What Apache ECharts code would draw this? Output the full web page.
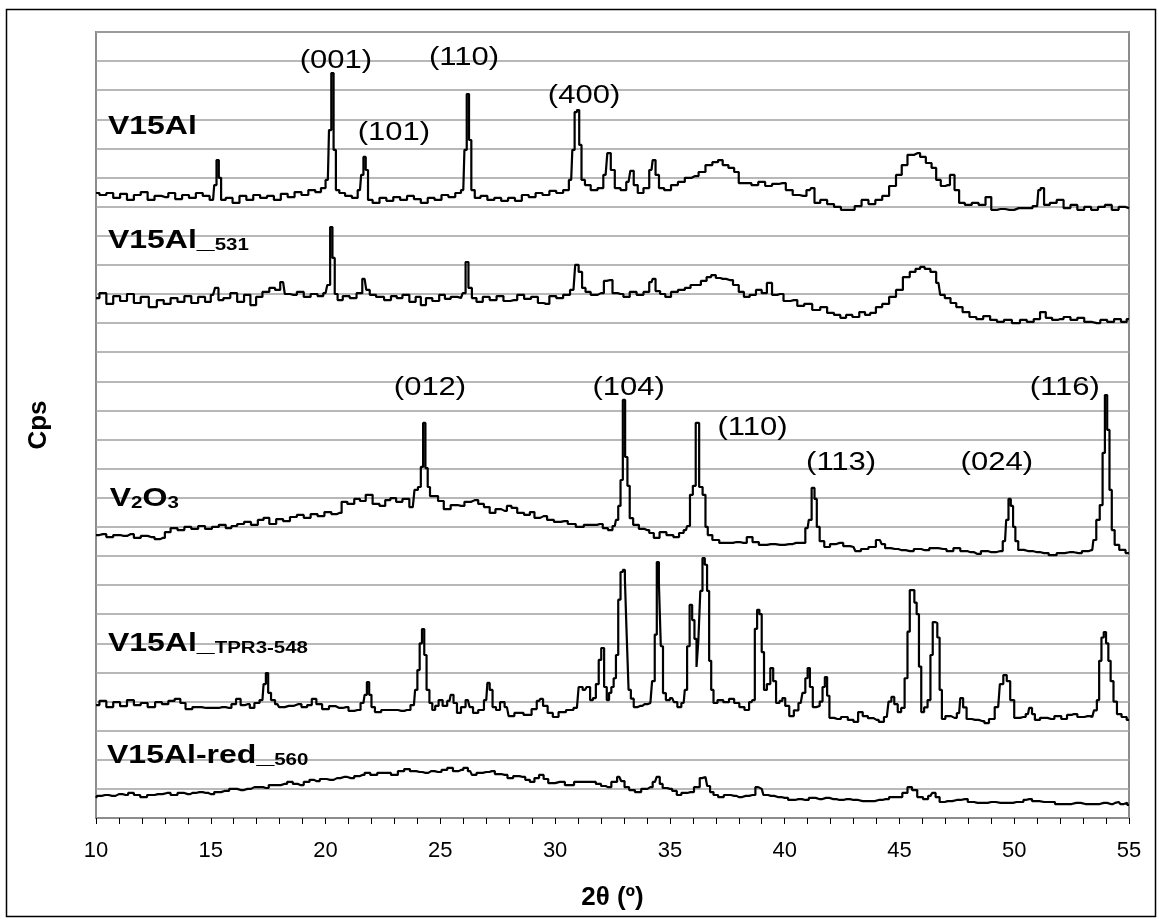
<!DOCTYPE html>
<html><head><meta charset="utf-8">
<script src="https://cdn.jsdelivr.net/npm/echarts@6/dist/echarts.min.js"></script>
<style>html,body{margin:0;padding:0;background:#fff}#c{width:1159px;height:920px}</style>
</head><body><div id="c"></div>
<script>
// 2θ (degrees), intensity (cps, offset stacked; 1 gridline = 100)
const V15Al = [[10.0,2147],[10.3,2140],[10.6,2147],[10.9,2130],[11.2,2144],[11.5,2123],[11.8,2140],[12.1,2150],[12.4,2123],[12.7,2137],[13.0,2133],[13.3,2147],[13.6,2126],[13.9,2140],[14.2,2130],[14.5,2147],[14.8,2137],[15.1,2123],[15.2,2174],[15.3,2260],[15.4,2199],[15.5,2123],[15.8,2130],[16.1,2113],[16.4,2137],[16.7,2123],[17.0,2140],[17.3,2130],[17.6,2137],[17.9,2123],[18.2,2144],[18.5,2133],[18.8,2150],[19.1,2140],[19.4,2157],[19.7,2150],[19.9,2164],[20.1,2192],[20.2,2363],[20.3,2559],[20.4,2295],[20.5,2157],[20.7,2147],[21.0,2137],[21.3,2130],[21.5,2157],[21.6,2209],[21.7,2271],[21.8,2226],[21.9,2123],[22.2,2113],[22.5,2130],[22.8,2120],[23.1,2133],[23.4,2123],[23.7,2137],[24.0,2126],[24.3,2113],[24.6,2130],[24.9,2123],[25.2,2140],[25.5,2133],[25.8,2147],[26.0,2157],[26.1,2295],[26.2,2487],[26.3,2329],[26.4,2157],[26.6,2130],[26.9,2137],[27.2,2123],[27.5,2130],[27.8,2120],[28.1,2130],[28.4,2120],[28.7,2140],[29.0,2133],[29.3,2147],[29.6,2140],[29.9,2154],[30.2,2147],[30.5,2157],[30.7,2192],[30.8,2295],[30.9,2425],[31.0,2432],[31.1,2312],[31.2,2192],[31.4,2174],[31.7,2157],[32.0,2164],[32.2,2209],[32.35,2284],[32.5,2226],[32.7,2164],[33.0,2157],[33.2,2185],[33.35,2223],[33.5,2174],[33.7,2147],[34.0,2164],[34.2,2226],[34.3,2260],[34.45,2209],[34.6,2164],[34.9,2157],[35.2,2174],[35.5,2185],[35.8,2199],[36.1,2205],[36.4,2219],[36.7,2243],[37.0,2253],[37.2,2260],[37.4,2243],[37.7,2233],[37.9,2219],[38.1,2181],[38.4,2181],[38.7,2174],[39.0,2185],[39.3,2171],[39.6,2178],[39.9,2181],[40.2,2157],[40.5,2140],[40.8,2137],[41.1,2157],[41.2,2164],[41.4,2113],[41.7,2123],[42.0,2109],[42.3,2099],[42.6,2089],[42.9,2089],[43.2,2102],[43.5,2123],[43.8,2109],[44.1,2123],[44.4,2137],[44.7,2171],[45.0,2209],[45.2,2243],[45.5,2278],[45.8,2284],[46.0,2271],[46.3,2250],[46.5,2233],[46.7,2192],[46.9,2171],[47.1,2174],[47.3,2209],[47.5,2157],[47.7,2113],[48.0,2106],[48.3,2113],[48.6,2106],[48.9,2133],[49.1,2089],[49.4,2092],[49.8,2089],[50.2,2095],[50.6,2095],[51.0,2102],[51.1,2157],[51.2,2164],[51.4,2106],[51.7,2113],[52.0,2123],[52.3,2095],[52.6,2106],[52.9,2089],[53.2,2099],[53.5,2089],[53.8,2099],[54.1,2106],[54.4,2089],[54.7,2099],[55.0,2095]];

const V15Al_531 = [[10.0,1786],[10.3,1803],[10.6,1766],[10.9,1793],[11.2,1776],[11.5,1800],[11.8,1769],[12.1,1790],[12.5,1755],[12.8,1779],[13.1,1766],[13.4,1786],[13.7,1773],[14.0,1793],[14.3,1769],[14.6,1790],[14.9,1773],[15.1,1797],[15.27,1821],[15.4,1779],[15.7,1786],[16.0,1803],[16.3,1773],[16.6,1797],[16.85,1762],[17.1,1790],[17.4,1807],[17.7,1821],[17.9,1814],[18.15,1841],[18.3,1800],[18.6,1797],[18.9,1807],[19.2,1790],[19.5,1800],[19.8,1793],[20.0,1803],[20.15,1831],[20.25,2030],[20.35,1924],[20.45,1800],[20.6,1779],[20.9,1793],[21.2,1786],[21.5,1803],[21.7,1852],[21.85,1814],[22.0,1797],[22.4,1790],[22.7,1779],[23.0,1793],[23.2,1786],[23.5,1797],[23.8,1773],[24.05,1790],[24.25,1762],[24.5,1786],[24.8,1776],[25.1,1797],[25.3,1783],[25.6,1790],[25.9,1786],[26.05,1803],[26.15,1910],[26.3,1821],[26.45,1786],[26.7,1773],[27.0,1790],[27.3,1779],[27.6,1793],[27.9,1776],[28.2,1779],[28.5,1797],[28.8,1783],[29.1,1790],[29.4,1769],[29.6,1766],[29.9,1793],[30.2,1786],[30.5,1797],[30.8,1814],[30.95,1900],[31.1,1876],[31.25,1821],[31.4,1807],[31.7,1797],[32.0,1803],[32.25,1845],[32.4,1848],[32.6,1803],[32.85,1800],[33.1,1790],[33.4,1807],[33.7,1797],[34.0,1807],[34.2,1841],[34.3,1852],[34.45,1810],[34.7,1800],[34.9,1790],[35.2,1807],[35.5,1814],[35.8,1821],[36.0,1831],[36.2,1831],[36.5,1845],[36.7,1858],[36.9,1865],[37.1,1855],[37.3,1852],[37.6,1848],[37.9,1831],[38.1,1807],[38.35,1790],[38.6,1797],[38.9,1814],[39.1,1803],[39.35,1838],[39.55,1797],[39.8,1800],[40.1,1776],[40.4,1779],[40.7,1759],[41.0,1766],[41.4,1745],[41.7,1755],[42.0,1735],[42.3,1728],[42.55,1718],[42.8,1728],[43.1,1721],[43.4,1738],[43.6,1728],[43.85,1735],[44.1,1755],[44.4,1766],[44.7,1790],[45.0,1814],[45.3,1858],[45.6,1876],[45.8,1886],[46.0,1893],[46.2,1886],[46.5,1876],[46.7,1838],[46.85,1797],[47.1,1786],[47.35,1769],[47.6,1755],[47.9,1738],[48.2,1721],[48.5,1714],[48.8,1724],[49.1,1711],[49.4,1704],[49.7,1711],[50.1,1700],[50.4,1711],[50.7,1704],[51.0,1714],[51.25,1738],[51.5,1718],[51.8,1711],[52.0,1714],[52.3,1721],[52.6,1711],[52.9,1718],[53.2,1704],[53.6,1700],[53.9,1711],[54.2,1704],[54.5,1714],[54.8,1704],[55.0,1714]];

const V2O3 = [[10.0,972],[10.3,975],[10.6,965],[10.9,972],[11.2,969],[11.5,975],[11.8,962],[12.1,969],[12.4,965],[12.7,958],[12.9,962],[13.1,982],[13.4,996],[13.7,989],[14.0,1000],[14.3,993],[14.6,1003],[14.9,993],[15.2,1000],[15.5,1007],[15.8,996],[16.0,1003],[16.3,1010],[16.6,1017],[16.9,1007],[17.2,1024],[17.4,1031],[17.7,1010],[18.0,1027],[18.3,1020],[18.6,1034],[18.9,1041],[19.2,1031],[19.5,1044],[19.8,1037],[20.1,1051],[20.4,1044],[20.6,1048],[20.8,1086],[21.1,1079],[21.4,1096],[21.6,1089],[21.9,1110],[22.2,1079],[22.5,1072],[22.7,1092],[22.95,1099],[23.2,1086],[23.5,1096],[23.8,1068],[23.95,1127],[24.1,1137],[24.2,1206],[24.3,1357],[24.4,1202],[24.5,1137],[24.6,1106],[24.8,1106],[25.0,1089],[25.3,1061],[25.6,1075],[25.9,1072],[26.2,1086],[26.5,1092],[26.8,1079],[27.0,1068],[27.3,1048],[27.5,1061],[27.8,1055],[28.0,1072],[28.2,1065],[28.5,1048],[28.8,1041],[29.0,1051],[29.2,1031],[29.5,1037],[29.8,1024],[30.1,1017],[30.4,1020],[30.7,1010],[31.1,1000],[31.4,1007],[31.7,1007],[31.95,1010],[32.2,996],[32.4,989],[32.6,1003],[32.7,1024],[32.8,1072],[32.9,1161],[33.0,1436],[33.1,1240],[33.2,1141],[33.3,1030],[33.5,1007],[33.8,993],[34.0,989],[34.2,979],[34.4,962],[34.7,982],[35.0,972],[35.3,965],[35.5,979],[35.7,989],[35.8,1003],[35.95,1110],[36.05,1141],[36.2,1357],[36.35,1137],[36.5,1110],[36.6,1000],[36.7,972],[37.0,955],[37.3,945],[37.6,945],[37.9,948],[38.2,945],[38.5,965],[38.7,948],[39.05,938],[39.4,941],[39.8,938],[40.2,941],[40.5,945],[40.8,945],[41.0,996],[41.1,1024],[41.25,1134],[41.35,1096],[41.45,1000],[41.6,951],[41.85,931],[42.1,941],[42.4,945],[42.7,934],[43.0,931],[43.15,917],[43.5,924],[43.8,931],[44.15,955],[44.3,941],[44.45,927],[44.8,924],[45.1,920],[45.45,917],[45.8,924],[46.1,920],[46.5,927],[46.9,924],[47.2,917],[47.5,927],[47.8,917],[48.1,913],[48.4,907],[48.7,917],[49.0,913],[49.4,917],[49.6,951],[49.7,1024],[49.8,1096],[49.9,1072],[50.0,1000],[50.1,951],[50.25,921],[50.6,917],[51.0,913],[51.3,910],[51.7,903],[52.0,910],[52.4,913],[52.8,910],[53.1,917],[53.4,921],[53.5,955],[53.65,1024],[53.8,1075],[53.9,1254],[54.0,1453],[54.1,1333],[54.2,1127],[54.3,989],[54.45,938],[54.7,921],[55.0,910]];

const V15Al_TPR3_548 = [[10.0,388],[10.3,402],[10.6,381],[10.9,398],[11.2,384],[11.5,405],[11.8,388],[12.1,395],[12.4,381],[12.75,398],[13.0,391],[13.3,402],[13.55,409],[13.8,395],[14.0,374],[14.4,381],[14.8,378],[15.2,378],[15.5,381],[15.8,378],[16.0,391],[16.2,409],[16.4,388],[16.6,391],[16.8,378],[17.0,395],[17.25,405],[17.35,460],[17.45,498],[17.55,430],[17.7,405],[17.9,391],[18.05,381],[18.4,385],[18.8,391],[19.1,381],[19.3,388],[19.5,409],[19.7,391],[20.0,374],[20.3,384],[20.6,378],[20.9,381],[21.1,368],[21.4,371],[21.65,395],[21.75,423],[21.85,467],[21.95,423],[22.05,381],[22.25,364],[22.6,371],[23.0,371],[23.3,368],[23.55,371],[23.85,388],[23.95,440],[24.05,508],[24.15,600],[24.25,649],[24.35,560],[24.45,440],[24.6,395],[24.7,371],[24.85,385],[25.0,405],[25.2,385],[25.4,402],[25.5,423],[25.65,395],[25.8,361],[26.0,381],[26.2,405],[26.35,381],[26.5,361],[26.8,371],[27.0,405],[27.1,464],[27.2,440],[27.35,381],[27.5,371],[27.7,398],[27.9,381],[28.05,350],[28.4,361],[28.85,354],[29.1,374],[29.3,402],[29.4,409],[29.55,385],[29.8,361],[30.0,347],[30.3,364],[30.65,371],[30.95,378],[31.1,450],[31.3,440],[31.45,450],[31.6,405],[31.7,412],[31.85,460],[31.95,543],[32.07,584],[32.2,450],[32.3,405],[32.4,430],[32.5,450],[32.6,480],[32.7,560],[32.8,750],[32.9,845],[33.0,852],[33.08,820],[33.15,635],[33.25,440],[33.35,410],[33.5,381],[33.7,385],[33.9,391],[34.15,395],[34.3,470],[34.38,630],[34.48,879],[34.56,810],[34.65,590],[34.75,429],[34.9,405],[35.1,412],[35.25,398],[35.4,381],[35.6,395],[35.7,440],[35.8,590],[35.92,732],[36.02,680],[36.12,615],[36.2,519],[36.28,610],[36.37,780],[36.47,893],[36.57,870],[36.67,780],[36.75,540],[36.85,440],[36.95,395],[37.2,405],[37.45,398],[37.7,409],[37.9,395],[38.15,381],[38.35,371],[38.55,398],[38.65,405],[38.75,650],[38.85,715],[38.95,700],[39.05,570],[39.15,440],[39.3,460],[39.45,515],[39.55,470],[39.7,395],[39.85,402],[39.95,412],[40.1,385],[40.3,350],[40.5,370],[40.7,395],[40.85,430],[40.95,480],[41.05,515],[41.15,450],[41.3,381],[41.45,385],[41.6,400],[41.7,450],[41.8,484],[41.9,420],[42.0,344],[42.3,340],[42.6,347],[42.9,337],[43.1,330],[43.3,364],[43.5,350],[43.75,343],[44.0,337],[44.2,330],[44.45,347],[44.6,400],[44.7,416],[44.85,391],[45.0,364],[45.15,378],[45.3,480],[45.4,640],[45.5,783],[45.6,783],[45.7,740],[45.8,700],[45.9,520],[46.0,364],[46.15,380],[46.3,405],[46.4,560],[46.5,673],[46.6,670],[46.7,620],[46.8,440],[46.9,340],[47.1,350],[47.4,344],[47.6,360],[47.7,412],[47.85,380],[48.0,340],[48.3,337],[48.6,333],[48.8,326],[49.0,340],[49.3,381],[49.45,460],[49.6,491],[49.75,470],[49.9,405],[50.1,344],[50.4,347],[50.6,357],[50.7,378],[50.85,357],[50.95,337],[51.3,344],[51.6,340],[51.9,350],[52.2,340],[52.4,354],[52.6,357],[52.9,347],[53.2,350],[53.4,347],[53.55,370],[53.65,405],[53.75,540],[53.85,620],[53.95,639],[54.05,600],[54.15,540],[54.25,470],[54.4,400],[54.55,357],[54.8,347],[55.0,337]];

const V15Al_red_560 = [[10.0,69],[10.1,76],[10.4,79],[10.7,76],[11.0,82],[11.3,79],[11.5,86],[11.8,79],[12.05,72],[12.4,79],[12.7,82],[13.1,86],[13.4,79],[13.7,86],[14.0,82],[14.2,86],[14.5,89],[14.8,86],[15.0,82],[15.3,89],[15.6,93],[16.0,100],[16.3,96],[16.6,100],[16.9,106],[17.15,106],[17.4,103],[17.65,113],[17.9,113],[18.2,117],[18.45,124],[18.7,117],[18.9,113],[19.2,124],[19.4,131],[19.6,127],[19.9,134],[20.2,131],[20.5,137],[20.8,141],[21.1,137],[21.4,144],[21.6,148],[21.8,155],[22.1,148],[22.4,155],[22.7,155],[23.0,148],[23.3,161],[23.55,168],[23.8,161],[24.1,158],[24.35,155],[24.6,161],[24.9,158],[25.2,165],[25.4,172],[25.7,161],[25.9,165],[26.1,172],[26.3,161],[26.45,148],[26.7,155],[27.0,158],[27.25,161],[27.5,151],[27.8,148],[28.05,137],[28.3,144],[28.6,141],[28.8,131],[29.0,124],[29.2,137],[29.4,148],[29.6,134],[29.8,120],[30.2,124],[30.65,113],[31.0,124],[31.3,124],[31.65,124],[31.9,117],[32.1,110],[32.3,106],[32.6,124],[32.8,141],[32.95,127],[33.1,106],[33.35,96],[33.6,89],[33.9,100],[34.15,106],[34.35,124],[34.5,141],[34.62,117],[34.75,103],[35.0,100],[35.2,93],[35.4,79],[35.6,86],[35.9,89],[36.2,106],[36.4,137],[36.55,141],[36.7,110],[36.8,89],[37.0,79],[37.2,72],[37.5,79],[37.8,76],[38.0,72],[38.3,76],[38.6,79],[38.85,106],[39.0,100],[39.15,79],[39.4,76],[39.7,72],[40.0,69],[40.3,62],[40.6,65],[40.9,62],[41.2,69],[41.5,65],[41.8,69],[42.1,65],[42.4,62],[42.7,65],[43.0,62],[43.4,58],[43.75,58],[44.1,62],[44.4,65],[44.7,72],[45.0,72],[45.25,86],[45.45,106],[45.65,96],[45.9,72],[46.15,65],[46.35,76],[46.5,86],[46.65,72],[46.85,55],[47.1,58],[47.5,62],[47.85,65],[48.1,55],[48.4,52],[48.7,52],[49.0,55],[49.4,52],[49.8,52],[50.1,55],[50.3,55],[50.5,62],[50.65,65],[50.9,58],[51.3,55],[51.6,55],[51.95,48],[52.3,48],[52.7,52],[53.1,48],[53.55,48],[53.9,52],[54.2,48],[54.4,52],[54.55,55],[54.7,48],[54.85,52],[55.0,45]];

// [2θ, cps, text] — Miller index annotations (text centre)
const peakLabels = [[20.45,2600,'(001)'],[22.98,2353,'(101)'],[26.03,2610,'(110)'],[31.26,2480,'(400)'],[24.55,1477,'(012)'],[33.2,1477,'(104)'],[38.6,1340,'(110)'],[42.46,1219,'(113)'],[49.24,1219,'(024)'],[52.2,1477,'(116)']];
// [2θ, cps, rich text] — sample names (left edge, vertical centre)
const sampleLabels = [[10.52,2374,'{m|V15Al}'],[10.52,1985,'{m|V15Al_}{s|531}'],[10.6,1096,'{m|V}{s|2}{m|O}{s|3}'],[10.52,598,'{m|V15Al_}{s|TPR3-548}'],[10.48,216,'{m|V15Al-red_}{s|560}']];

const FONT = '"Liberation Sans", Arial, Helvetica, sans-serif';
const chart = echarts.init(document.getElementById('c'), null, {renderer:'canvas'});
const traceSeries = (name, data) => ({type:'line', name, data, step:'middle', symbol:'none', showSymbol:false, lineStyle:{color:'#000', width:2.2}, silent:true, animation:false, z:3});
const frame = {type:'rect', shape:{x:6.5, y:9.5, width:1149, height:907}, style:{fill:null, stroke:'#000', lineWidth:1.5}, silent:true, z:-10};

chart.setOption({
  backgroundColor:'#fff',
  animation:false,
  graphic:[frame],
  grid:{left:96, right:30, top:32, bottom:102, show:true, borderColor:'#8c8c8c', borderWidth:2, backgroundColor:'#fff'},
  xAxis:{type:'value', min:10, max:55, interval:5,
    axisLine:{show:true, onZero:false, lineStyle:{color:'#8c8c8c', width:2}},
    axisTick:{show:true, inside:false, length:6, lineStyle:{color:'#000', width:1}},
    minorTick:{show:true, splitNumber:5, length:6, lineStyle:{color:'#000', width:1}},
    axisLabel:{fontSize:22, color:'#000', fontFamily:FONT, margin:22},
    splitLine:{show:false},
    name:'2θ (º)', nameLocation:'middle', nameGap:67,
    nameTextStyle:{fontSize:26, fontWeight:'bold', color:'#000', fontFamily:FONT}},
  yAxis:{type:'value', min:0, max:2700, interval:100,
    axisLine:{show:false}, axisTick:{show:false}, axisLabel:{show:false},
    splitLine:{show:true, lineStyle:{color:'#a0a0a0', width:1.5}},
    name:'Cps', nameLocation:'middle', nameGap:44,
    nameTextStyle:{fontSize:26, fontWeight:'bold', color:'#000', fontFamily:FONT}},
  series:[
    traceSeries('V15Al', V15Al),
    traceSeries('V15Al_531', V15Al_531),
    traceSeries('V2O3', V2O3),
    traceSeries('V15Al_TPR3-548', V15Al_TPR3_548),
    traceSeries('V15Al-red_560', V15Al_red_560)
  ]
});

// text annotations anchored to data coordinates through the chart's own scales
const texts = [];
peakLabels.forEach(p => {
  const pt = chart.convertToPixel({gridIndex:0}, [p[0], p[1]]);
  texts.push({type:'text', x:pt[0], y:pt[1], scaleX:1.24, silent:true, z:10,
    style:{text:p[2], font:'25px ' + FONT, fill:'#000', align:'center', verticalAlign:'middle', textAlign:'center', textVerticalAlign:'middle'}});
});
sampleLabels.forEach(p => {
  const pt = chart.convertToPixel({gridIndex:0}, [p[0], p[1]]);
  texts.push({type:'text', x:pt[0], y:pt[1], scaleX:1.28, silent:true, z:10,
    style:{text:p[2], fill:'#000', align:'left', verticalAlign:'middle', textAlign:'left', textVerticalAlign:'middle',
      rich:{
        m:{fontSize:25, fontWeight:'bold', fontFamily:FONT, fill:'#000', color:'#000', verticalAlign:'bottom', lineHeight:26},
        s:{fontSize:16, fontWeight:'bold', fontFamily:FONT, fill:'#000', color:'#000', verticalAlign:'bottom', lineHeight:12}
      }}});
});
chart.setOption({graphic:[frame].concat(texts)}, {replaceMerge:['graphic']});
</script>
</body></html>
